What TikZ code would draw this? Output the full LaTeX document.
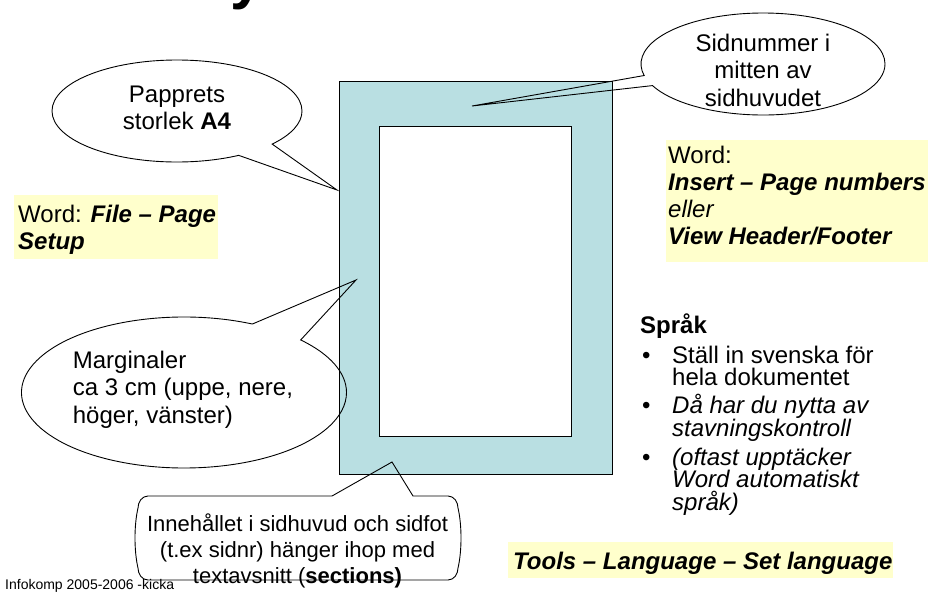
\documentclass[tikz,border=0pt]{standalone}
\usepackage{fontspec}
\setmainfont{Liberation Sans}
\usetikzlibrary{shapes.callouts}
\definecolor{pagefill}{RGB}{185,223,226}
\definecolor{noteyellow}{RGB}{255,255,204}
\begin{document}
\begin{tikzpicture}[x=1pt,y=-1pt,
  txt/.style={inner sep=0pt, font=\fontsize{24}{27.5}\selectfont},
  smalltxt/.style={inner sep=0pt, font=\fontsize{22}{26}\selectfont},
  listtxt/.style={inner sep=0pt, font=\fontsize{24}{22.5}\selectfont, align=left, anchor=base west},
  bubble/.style={ellipse callout, draw=black, line width=0.9pt, inner sep=0pt},
  notebox/.style={fill=noteyellow, draw=none, inner sep=0pt},
  pagebox/.style={draw=black, line width=0.9pt, inner sep=0pt},
  outline/.style={draw=black, line width=0.9pt},
]
\useasboundingbox (0,0) rectangle (928,595);
\fill[white] (0,0) rectangle (928,595);

% fragment of the title
\node[anchor=base west, inner sep=0pt, font=\fontsize{60}{62}\selectfont\bfseries] (title) at (230,-3) {y};

% the page
\node[pagebox, fill=pagefill, minimum width=273pt, minimum height=393pt] (outer) at (475.5,277.5) {};
\node[pagebox, fill=white, minimum width=192pt, minimum height=310pt] (inner) at (475,281) {};

% yellow notes
\node[notebox, minimum width=204pt, minimum height=64pt] (wordL) at (116,227) {};
\node[txt, anchor=base west, align=left] (wordLt) at (18,249.7) {Word: \textbf{\textit{File – Page}}\\\textbf{\textit{Setup}}};

\node[notebox, minimum width=264pt, minimum height=122pt] (wordR) at (798,201) {};
\node[txt, anchor=base west, align=left, font=\fontsize{24}{27}\selectfont] (wordRt) at (668,244) {Word:\\\textbf{\textit{Insert – Page numbers}}\\\textit{eller}\\\textbf{\textit{View Header/Footer}}};

\node[notebox, minimum width=385pt, minimum height=36pt] (tools) at (700.5,560) {};
\node[txt, anchor=base west] (toolst) at (513,569.5) {\textbf{\textit{Tools – Language – Set language}}};

% callouts
\coordinate (tipA4) at (337,190);
\node[bubble, minimum width=250pt, minimum height=102pt, callout absolute pointer={(tipA4)}, callout pointer arc=20] (a4) at (177,111) {};
\node[txt, anchor=base, align=center] (a4t) at (177,129.5) {Papprets\\storlek \textbf{A4}};

\coordinate (tipHead) at (472,106);
\node[bubble, minimum width=244pt, minimum height=102pt, callout absolute pointer={(tipHead)}, callout pointer arc=12] (head) at (763,64) {};
\node[txt, anchor=base, align=center] (headt) at (763,106) {Sidnummer i\\mitten av\\sidhuvudet};

\coordinate (tipMarg) at (356,280);
\node[bubble, minimum width=325pt, minimum height=151pt, callout absolute pointer={(tipMarg)}, callout pointer arc=21] (marg) at (184,392.5) {};
\node[txt, anchor=base west, align=left] (margt) at (72.7,423) {Marginaler\\ca 3 cm (uppe, nere,\\höger, vänster)};

% bottom callout
\coordinate (tipSec) at (392,462);
\draw[outline] (148,496) -- (332,496) -- (tipSec) -- (413,496) -- (448,496)
  .. controls (454,496) and (458,502) .. (458,508)
  .. controls (462,525) and (462,551) .. (458,568)
  .. controls (458,574) and (454,580) .. (448,580)
  -- (148,580)
  .. controls (142,580) and (138,574) .. (138,568)
  .. controls (134,551) and (134,525) .. (138,508)
  .. controls (138,502) and (142,496) .. (148,496) -- cycle;
\node[smalltxt, anchor=base, align=center] (sect) at (297.5,583) {Innehållet i sidhuvud och sidfot\\(t.ex sidnr) hänger ihop med\\textavsnitt (\textbf{sections)}};

% language list
\node[txt, anchor=base west] (sprak) at (640,333) {\textbf{Språk}};
\node[txt, anchor=base west] (b1) at (642,363) {•};
\node[listtxt] (i1) at (672,385.5) {Ställ in svenska för\\hela dokumentet};
\node[txt, anchor=base west] (b2) at (642,413) {•};
\node[listtxt] (i2) at (672,436) {\textit{Då har du nytta av}\\\textit{stavningskontroll}};
\node[txt, anchor=base west] (b3) at (642,465) {•};
\node[listtxt] (i3) at (672,510) {\textit{(oftast upptäcker}\\\textit{Word automatiskt}\\\textit{språk)}};

% footer
\node[inner sep=0pt, anchor=base west, font=\fontsize{14}{16}\selectfont] (foot) at (5,589.5) {Infokomp 2005-2006 -kicka};
\end{tikzpicture}
\end{document}
